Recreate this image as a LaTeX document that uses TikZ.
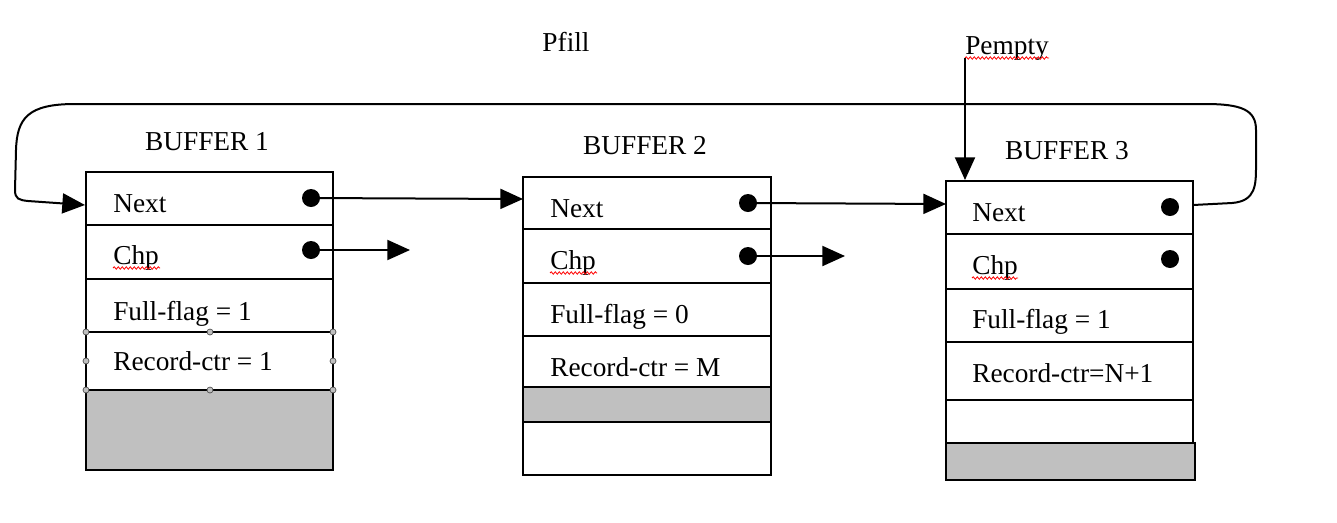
\documentclass[tikz,border=0pt]{standalone}
\usepackage{fontspec}
\setmainfont{Liberation Serif}
\usetikzlibrary{arrows.meta,fit,decorations.pathmorphing}
\definecolor{cellgray}{HTML}{C0C0C0}
\begin{document}
\begin{tikzpicture}[x=0.75pt,y=-0.75pt,
  cell/.style={draw=black,line width=1.5pt,inner sep=0pt,fit={#1}},
  graycell/.style={cell={#1},fill=cellgray},
  lbl/.style={anchor=base west,inner sep=0pt,font=\fontsize{20.5}{24}\selectfont},
  ttl/.style={anchor=base,inner sep=0pt,font=\fontsize{20.5}{24}\selectfont},
  dot/.style={circle,fill=black,inner sep=0pt,minimum size=13.5pt},
  ptr/.style={line width=1.5pt,-{Triangle[length=17pt,width=15pt]}},
  spell/.style={draw=red,line width=0.6pt,decorate,decoration={snake,amplitude=0.9pt,segment length=3pt}},
  handle/.style={circle,draw=black!70,fill=black!25,line width=0.5pt,inner sep=0pt,minimum size=4.5pt}]
\useasboundingbox (0,0) rectangle (1337,522);

% titles
\node[ttl] (pfill) at (566,51) {Pfill};
\node[lbl] (pempty) at (965,54) {Pempty};
\node[ttl] (t1) at (207,150) {BUFFER 1};
\node[ttl] (t2) at (645,154) {BUFFER 2};
\node[ttl] (t3) at (1067,159) {BUFFER 3};

% buffer 1
\node[cell={(86,172)(333,225)}] (b1n) {};
\node[cell={(86,225)(333,279)}] (b1c) {};
\node[cell={(86,279)(333,332)}] (b1f) {};
\node[cell={(86,332)(333,390)}] (b1r) {};
\node[graycell={(86,390)(333,470)}] (b1g) {};
\node[lbl] (l1n) at (113,212) {Next};
\node[lbl] (l1c) at (113,264) {Chp};
\node[lbl] (l1f) at (113,320) {Full-flag = 1};
\node[lbl] (l1r) at (113,370) {Record-ctr = 1};
\node[dot] (d1n) at (311,198) {};
\node[dot] (d1c) at (311,250) {};

% selection handles
\foreach \p [count=\i] in {(86,332),(210,332),(333,332),(86,361),(333,361),(86,390),(210,390),(333,390)}
  \node[handle] (h\i) at \p {};

% buffer 2
\node[cell={(523,177)(771,229)}] (b2n) {};
\node[cell={(523,229)(771,283)}] (b2c) {};
\node[cell={(523,283)(771,336)}] (b2f) {};
\node[cell={(523,336)(771,387)}] (b2r) {};
\node[graycell={(523,387)(771,422)}] (b2g) {};
\node[cell={(523,422)(771,475)}] (b2e) {};
\node[lbl] (l2n) at (550,217) {Next};
\node[lbl] (l2c) at (550,269) {Chp};
\node[lbl] (l2f) at (550,323) {Full-flag = 0};
\node[lbl] (l2r) at (550,376) {Record-ctr = M};
\node[dot] (d2n) at (748,203) {};
\node[dot] (d2c) at (748,256) {};

% buffer 3
\node[cell={(946,181)(1193,234)}] (b3n) {};
\node[cell={(946,234)(1193,289)}] (b3c) {};
\node[cell={(946,289)(1193,342)}] (b3f) {};
\node[cell={(946,342)(1193,400)}] (b3r) {};
\node[cell={(946,400)(1193,443)}] (b3e) {};
\node[graycell={(946,443)(1195,480)}] (b3g) {};
\node[lbl] (l3n) at (972,221) {Next};
\node[lbl] (l3c) at (972,274) {Chp};
\node[lbl] (l3f) at (972,328) {Full-flag = 1};
\node[lbl] (l3r) at (972,382) {Record-ctr=N+1};
\node[dot] (d3n) at (1170,207) {};
\node[dot] (d3c) at (1170,259) {};

% spelling marks
\path[spell] (113,268) -- (160,268);
\path[spell] (550,273) -- (597,273);
\path[spell] (972,278) -- (1018,278);
\path[spell] (965,58) -- (1049,58);

% pointers
\coordinate (b2in) at (523,199);
\coordinate (b3in) at (946,204);
\coordinate (c1end) at (410,250);
\coordinate (c2end) at (845,256);
\draw[ptr] (d1n.center) -- (b2in);
\draw[ptr] (d1c.center) -- (c1end);
\draw[ptr] (d2n.center) -- (b3in);
\draw[ptr] (d2c.center) -- (c2end);

% Pempty pointer
\coordinate (pe) at (965,58);
\coordinate (pein) at (965,180);
\draw[ptr] (pe) -- (pein);

% wrap-around loop
\coordinate (loopout) at (1193,205);
\coordinate (loopin) at (85,205);
\draw[ptr,rounded corners=0pt] (loopout) -- (1232,203)
  .. controls (1256,201) and (1256,185) .. (1256,165) -- (1256,130)
  .. controls (1256,110) and (1242,104) .. (1205,104)
  -- (75,104)
  .. controls (28,104) and (17,118) .. (16,150) -- (15,190)
  .. controls (15,199) and (19,200) .. (28,201) -- (loopin);
\end{tikzpicture}
\end{document}
